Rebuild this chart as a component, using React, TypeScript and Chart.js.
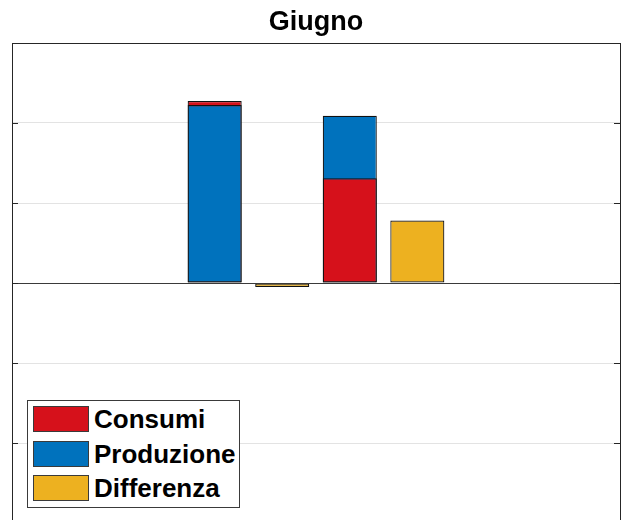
import React, { useEffect, useRef } from "react";
import { Chart, registerables } from "chart.js";

Chart.register(...registerables);

const titleText = "Giugno";
const seriesNames = ["Consumi", "Produzione", "Differenza"];
const stackPositions = [3, 5];
const diffPositions = [4, 6];
const consumi = [2.275, 1.31];
const produzione = [2.225, 2.09];
const differenza = [-0.05, 0.78];
const yTicks = [-3, -2, -1, 0, 1, 2, 3];
const xRange = [0, 9];

const RED = "#D6111B";
const BLUE = "#0072BD";
const YELLOW = "#EDB120";
const colors = [RED, BLUE, YELLOW];

const FONT = "'Liberation Sans', Arial, Helvetica, sans-serif";

const framePlugin = {
  id: "frame",
  afterDatasetsDraw(chart: any) {
    const { ctx, chartArea } = chart;
    const y = chart.scales.y;
    ctx.save();
    const y0 = Math.round(y.getPixelForValue(0)) + 0.5;
    ctx.strokeStyle = "#3a3a3a";
    ctx.lineWidth = 1;
    ctx.beginPath();
    ctx.moveTo(chartArea.left, y0);
    ctx.lineTo(chartArea.right, y0);
    ctx.stroke();
    ctx.strokeStyle = "#262626";
    yTicks.forEach((v) => {
      const py = Math.round(y.getPixelForValue(v)) + 0.5;
      ctx.beginPath();
      ctx.moveTo(chartArea.left, py);
      ctx.lineTo(chartArea.left + 6, py);
      ctx.moveTo(chartArea.right, py);
      ctx.lineTo(chartArea.right - 6, py);
      ctx.stroke();
    });
    ctx.strokeStyle = "#262626";
    ctx.strokeRect(
      Math.round(chartArea.left) + 0.5,
      Math.round(chartArea.top) + 0.5,
      Math.round(chartArea.right - chartArea.left),
      Math.round(chartArea.bottom - chartArea.top)
    );
    ctx.fillStyle = "#000";
    ctx.font = `bold 27px ${FONT}`;
    ctx.textAlign = "center";
    ctx.textBaseline = "alphabetic";
    ctx.fillText(titleText, (chartArea.left + chartArea.right) / 2, 30);
    ctx.restore();
  },
};

export default function App() {
  const ref = useRef<HTMLCanvasElement | null>(null);

  useEffect(() => {
    if (!ref.current) return;
    const back = (vals: number[], other: number[]) =>
      stackPositions.map((x, i) => ({ x, y: vals[i] >= other[i] ? vals[i] : null }));
    const front = (vals: number[], other: number[]) =>
      stackPositions.map((x, i) => ({ x, y: vals[i] < other[i] ? vals[i] : null }));
    const common = {
      borderColor: "#111",
      borderWidth: 1.2,
      borderSkipped: false,
      grouped: false,
      barPercentage: 0.8,
      categoryPercentage: 1,
    };
    const chart = new Chart(ref.current, {
      type: "bar",
      data: {
        datasets: [
          { ...common, label: "cb", data: back(consumi, produzione), backgroundColor: RED, order: 4 },
          { ...common, label: "pb", data: back(produzione, consumi), backgroundColor: BLUE, order: 3 },
          { ...common, label: "cf", data: front(consumi, produzione), backgroundColor: RED, order: 2 },
          { ...common, label: "pf", data: front(produzione, consumi), backgroundColor: BLUE, order: 1 },
          {
            ...common,
            label: seriesNames[2],
            data: diffPositions.map((x, i) => ({ x, y: differenza[i] })),
            backgroundColor: YELLOW,
            order: 0,
          },
        ] as any,
      },
      options: {
        animation: false,
        responsive: false,
        maintainAspectRatio: false,
        layout: { padding: { left: 12, top: 43, right: 5, bottom: 7 } },
        plugins: {
          legend: { display: false },
          title: { display: false },
          tooltip: { enabled: false },
        },
        scales: {
          x: {
            type: "linear",
            min: xRange[0],
            max: xRange[1],
            offset: false,
            grid: { display: false },
            border: { display: false },
            ticks: { display: false },
          },
          y: {
            min: yTicks[0],
            max: yTicks[yTicks.length - 1],
            afterBuildTicks: (axis: any) => {
              axis.ticks = yTicks.map((v) => ({ value: v }));
            },
            grid: {
              color: "#e3e3e3",
              drawTicks: false,
              lineWidth: 1,
            },
            border: { display: false },
            ticks: { display: false },
          },
        },
      } as any,
      plugins: [framePlugin],
    });
    return () => chart.destroy();
  }, []);

  const swatch = (c: string) => ({
    width: 54,
    height: 24,
    background: c,
    border: "1px solid #3a3a3a",
    marginRight: 5,
    flex: "none" as const,
  });

  return (
    <div
      style={{
        position: "fixed",
        left: 0,
        top: 0,
        width: 625,
        height: 520,
        overflow: "hidden",
        background: "#fff",
      }}
    >
      <canvas ref={ref} width={625} height={538} style={{ display: "block" }} />
      <div
        style={{
          position: "absolute",
          left: 27,
          top: 400,
          width: 206,
          height: 105,
          border: "1px solid #3a3a3a",
          background: "#fff",
          fontFamily: FONT,
          fontWeight: "bold",
          fontSize: 26,
          color: "#000",
          paddingLeft: 5,
          paddingTop: 1,
          boxSizing: "content-box",
        }}
      >
        {seriesNames.map((n, i) => (
          <div
            key={n}
            style={{ display: "flex", alignItems: "center", height: 34.5, lineHeight: "26px" }}
          >
            <div style={swatch(colors[i])} />
            <span style={{ marginTop: 0 }}>{n}</span>
          </div>
        ))}
      </div>
    </div>
  );
}
